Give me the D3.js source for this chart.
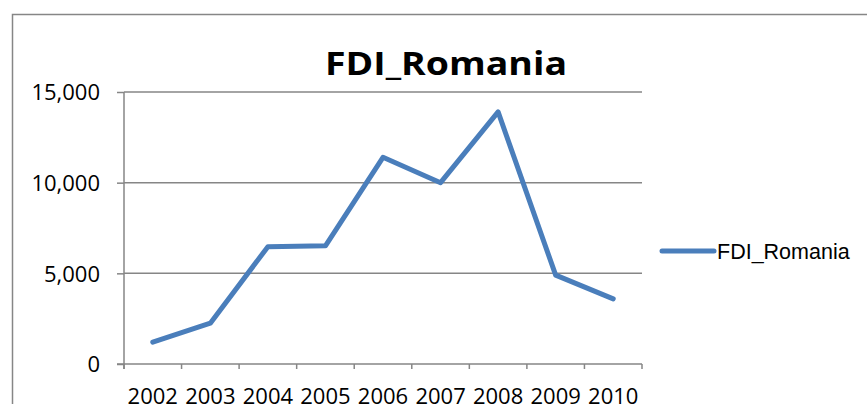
<!DOCTYPE html>
<html>
<head>
<meta charset="utf-8">
<script src="https://cdn.jsdelivr.net/npm/d3@7"></script>
<style>
  html, body { margin: 0; padding: 0; background: #fff; overflow: hidden; }
  svg { display: block; }
</style>
</head>
<body>
<svg width="867" height="404"></svg>
<script>
// data
var years = ["2002", "2003", "2004", "2005", "2006", "2007", "2008", "2009", "2010"];
var fdi = [1200, 2250, 6470, 6520, 11400, 10000, 13900, 4900, 3590];
var yTicks = [0, 5000, 10000, 15000];
var seriesName = "FDI_Romania";

var svg = d3.select("svg"),
    width = +svg.attr("width"),
    height = +svg.attr("height");

var grey = "#868686",
    blue = "#4A7EBB";

// plot area (note: "top" is taken by window.top, so use other names)
var plotL = 124, plotR = 642, plotT = 92, plotB = 364;

// outer chart frame (runs past right and bottom of window)
svg.append("rect")
    .attr("x", 12.5).attr("y", 14.5)
    .attr("width", 900).attr("height", 500)
    .attr("fill", "none")
    .attr("stroke", grey)
    .attr("stroke-width", 1.5);

var x = d3.scaleBand().domain(years).range([plotL, plotR]);
var y = d3.scaleLinear().domain([0, 15000]).range([plotB, plotT]);

// gridlines
svg.append("g")
    .selectAll("line")
    .data(yTicks.filter(d => d > 0))
    .enter()
    .append("line")
    .attr("x1", plotL).attr("x2", plotR)
    .attr("y1", d => y(d)).attr("y2", d => y(d))
    .attr("stroke", grey)
    .attr("stroke-width", 1.5);

// y axis
var yAxis = svg.append("g")
    .attr("transform", "translate(" + plotL + ",0)")
    .call(d3.axisLeft(y).tickValues(yTicks).tickSize(7).tickSizeOuter(0).tickPadding(17)
        .tickFormat(d3.format(",")));

// x axis, ticks on band edges
var xAxis = svg.append("g")
    .attr("transform", "translate(0," + plotB + ")")
    .call(d3.axisBottom(x).tickSize(0).tickSizeOuter(0).tickPadding(24));

var edges = years.map(d => x(d)).concat([plotR]);
xAxis.selectAll(".edge")
    .data(edges)
    .enter()
    .append("line")
    .attr("class", "edge")
    .attr("x1", d => d).attr("x2", d => d)
    .attr("y1", 0).attr("y2", 5)
    .attr("stroke", grey)
    .attr("stroke-width", 1.5);

[yAxis, xAxis].forEach(function(a){
    a.select(".domain").attr("stroke", grey).attr("stroke-width", 1.5);
    a.selectAll(".tick line").attr("stroke", grey).attr("stroke-width", 1.5);
    a.selectAll("text")
        .attr("font-family", "'Open Sans', sans-serif")
        .attr("font-size", 22)
        .attr("fill", "#000");
});
yAxis.select(".domain").attr("d", "M0," + (plotB + 5) + "V" + plotT);
xAxis.select(".domain").attr("d", "M" + (plotL - 7) + ",0H" + plotR);
yAxis.selectAll(".tick text").attr("dy", "0.36em");
xAxis.selectAll(".tick text").attr("dy", "0.71em");

// the series
var line = d3.line()
    .x((d, i) => x(years[i]) + x.bandwidth() / 2)
    .y(d => y(d));

svg.append("path")
    .datum(fdi)
    .attr("d", line)
    .attr("fill", "none")
    .attr("stroke", blue)
    .attr("stroke-width", 5)
    .attr("stroke-linejoin", "round")
    .attr("stroke-linecap", "round");

// title
svg.append("text")
    .attr("x", 446).attr("y", 75)
    .attr("text-anchor", "middle")
    .attr("font-family", "'Open Sans', sans-serif")
    .attr("font-weight", "bold")
    .attr("font-size", 33)
    .attr("textLength", 242)
    .attr("lengthAdjust", "spacingAndGlyphs")
    .text(seriesName);

// legend
var lg = svg.append("g").attr("transform", "translate(662,251)");
lg.append("line")
    .attr("x1", 0).attr("x2", 52)
    .attr("stroke", blue)
    .attr("stroke-width", 5)
    .attr("stroke-linecap", "round");
lg.append("text")
    .attr("x", 55).attr("y", 8)
    .attr("font-family", "'Liberation Sans', Arial, sans-serif")
    .attr("font-size", 21.5)
    .text(seriesName);
</script>
</body>
</html>
